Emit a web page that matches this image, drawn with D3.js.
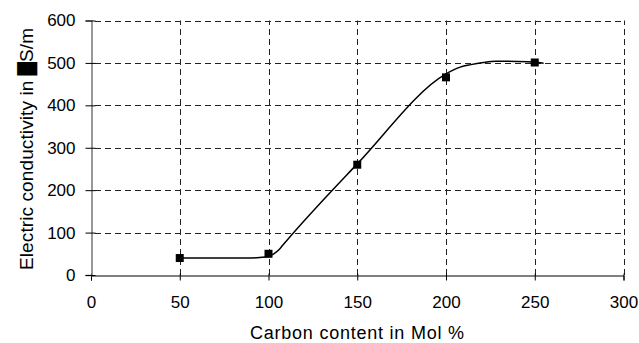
<!DOCTYPE html>
<html>
<head>
<meta charset="utf-8">
<script src="https://cdn.jsdelivr.net/npm/d3@7"></script>
<style>
  html, body { margin: 0; padding: 0; background: #fff; }
  svg { display: block; }
  text { font-family: "Liberation Sans", Arial, sans-serif; fill: #000; }
</style>
</head>
<body>
<svg id="chart" width="639" height="343"></svg>
<script>
// ---- data ----
const carbonContent = [50, 100, 150, 200, 250];
const conductivity = [40, 50, 260, 466, 501];
// smoothed trend curve
const curveCarbon = [50, 88, 95, 100, 103, 106, 108, 150, 200, 204, 208, 214, 221, 228, 240, 250, 255];
const curveConductivity = [40, 40, 41, 44, 50, 60, 70, 262, 474, 483, 490, 496, 501, 504, 503.5, 502, 499];
const xTicks = [0, 50, 100, 150, 200, 250, 300];
const yTicks = [0, 100, 200, 300, 400, 500, 600];
const xTitle = "Carbon content in Mol %";
const yTitlePre = "Electric conductivity in ";
const yTitleBlock = "\u2588";
const yTitlePost = "S/m";

const svg = d3.select("#chart");
const x = d3.scaleLinear().domain([0, 300]).range([91, 623.5]);
const y = d3.scaleLinear().domain([0, 600]).range([275, 20.5]);

// gridlines
const grid = svg.append("g").attr("stroke", "#222").attr("stroke-width", 1)
  .attr("stroke-dasharray", "6,4").attr("fill", "none");
yTicks.filter(d => d > 0).forEach(d => {
  grid.append("line").attr("x1", x(0) + 4).attr("x2", x(300))
    .attr("y1", Math.round(y(d)) + 0.5).attr("y2", Math.round(y(d)) + 0.5);
});
xTicks.filter(d => d > 0).forEach(d => {
  grid.append("line").attr("y1", y(0)).attr("y2", y(600))
    .attr("x1", Math.round(x(d)) + 0.5).attr("x2", Math.round(x(d)) + 0.5);
});

// x axis
const xAxis = d3.axisBottom(x).tickValues(xTicks).tickSize(5).tickPadding(15).tickFormat(d3.format("d"));
const gx = svg.append("g").attr("transform", `translate(0,${Math.round(y(0)) + 0.5})`).call(xAxis);
gx.select(".domain").attr("stroke", "#000").attr("stroke-width", 1);
gx.selectAll(".tick line").attr("stroke", "#000").attr("y1", -2);
gx.selectAll("text").attr("font-size", 17).attr("font-family", "Liberation Sans, Arial, sans-serif");

// y axis
const yAxis = d3.axisLeft(y).tickValues(yTicks).tickSize(6).tickPadding(10).tickFormat(d3.format("d"));
const gy = svg.append("g").attr("transform", `translate(${Math.round(x(0)) + 0.5},0)`).call(yAxis);
gy.select(".domain").attr("stroke", "#777").attr("stroke-width", 1.5);
gy.selectAll(".tick line").attr("stroke", "#000").attr("x1", 4);
gy.selectAll("text").attr("font-size", 17).attr("font-family", "Liberation Sans, Arial, sans-serif");

// curve
const pts = curveCarbon.map((c, i) => [c, curveConductivity[i]]);
const line = d3.line().x(d => x(d[0])).y(d => y(d[1])).curve(d3.curveMonotoneX);
svg.append("path").datum(pts).attr("d", line)
  .attr("fill", "none").attr("stroke", "#000").attr("stroke-width", 1.5);

// markers
const ms = 8;
svg.append("g").selectAll("rect").data(carbonContent).join("rect")
  .attr("x", (d) => x(d) - ms / 2)
  .attr("y", (d, i) => y(conductivity[i]) - ms / 2)
  .attr("width", ms).attr("height", ms).attr("fill", "#000");

// titles
svg.append("text").attr("x", 250).attr("y", 339).attr("text-anchor", "start")
  .attr("font-size", 18).attr("textLength", 214).attr("lengthAdjust", "spacing").text(xTitle);

const yt = svg.append("text").attr("transform", "translate(33,270) rotate(-90)")
  .attr("text-anchor", "start").attr("font-size", 19)
  .attr("textLength", 242).attr("lengthAdjust", "spacing");
yt.append("tspan").text(yTitlePre);
yt.append("tspan").attr("font-family", "DejaVu Sans").attr("font-size", 17).text(yTitleBlock);
yt.append("tspan").text(yTitlePost);
</script>
</body>
</html>
